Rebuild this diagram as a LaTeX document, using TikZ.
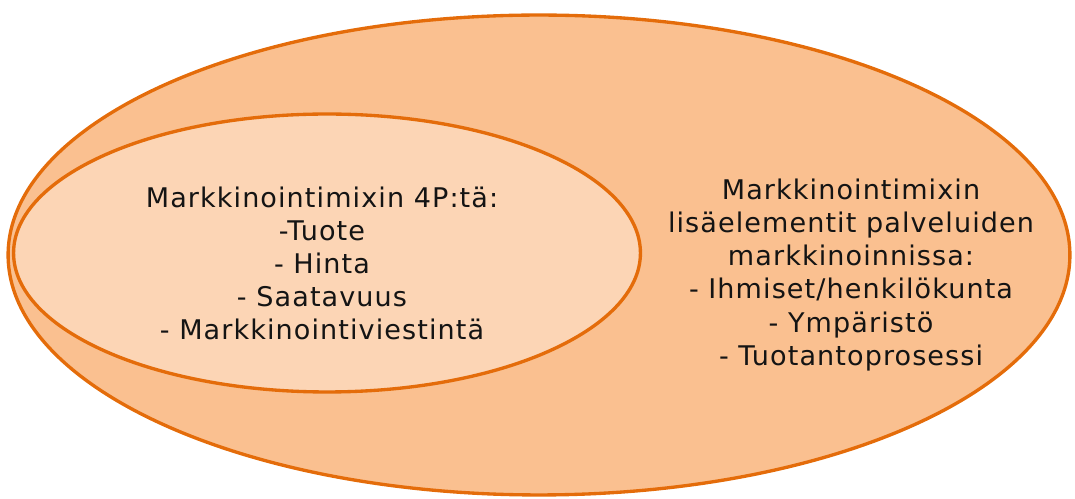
\documentclass[tikz,border=0pt]{standalone}
\usepackage{fontspec}
\setmainfont{DejaVu Sans}[LetterSpace=4]
\usetikzlibrary{shapes.geometric}
\definecolor{mixline}{HTML}{E46C0A}
\definecolor{mixouter}{HTML}{FAC090}
\definecolor{mixinner}{HTML}{FCD5B5}
\definecolor{mixtext}{HTML}{141414}

\begin{document}
\begin{tikzpicture}[
    x=0.02cm, y=-0.02cm,
    mixset/.style={ellipse, draw=mixline, line width=1.9pt, inner sep=0pt},
    mixlabel/.style={align=center, text=mixtext,
                     font=\fontsize{15.4pt}{18.8pt}\selectfont}
]
\useasboundingbox (0,0) rectangle (1075,499);
% Sets
\node[mixset, fill=mixouter, minimum width=21.24cm, minimum height=9.6cm] (all) at (539,255) {};
\node[mixset, fill=mixinner, minimum width=12.54cm, minimum height=5.56cm] (fourp) at (327,253) {};

% Labels
\node[mixlabel] (fourptext) at (322,263) {Markkinointimixin 4P:tä:\\-Tuote\\- Hinta\\- Saatavuus\\- Markkinointiviestintä};
\node[mixlabel] (extratext) at (851,275) {Markkinointimixin\\lisäelementit palveluiden\\markkinoinnissa:\\- Ihmiset/henkilökunta\\- Ympäristö\\- Tuotantoprosessi};
\end{tikzpicture}
\end{document}
